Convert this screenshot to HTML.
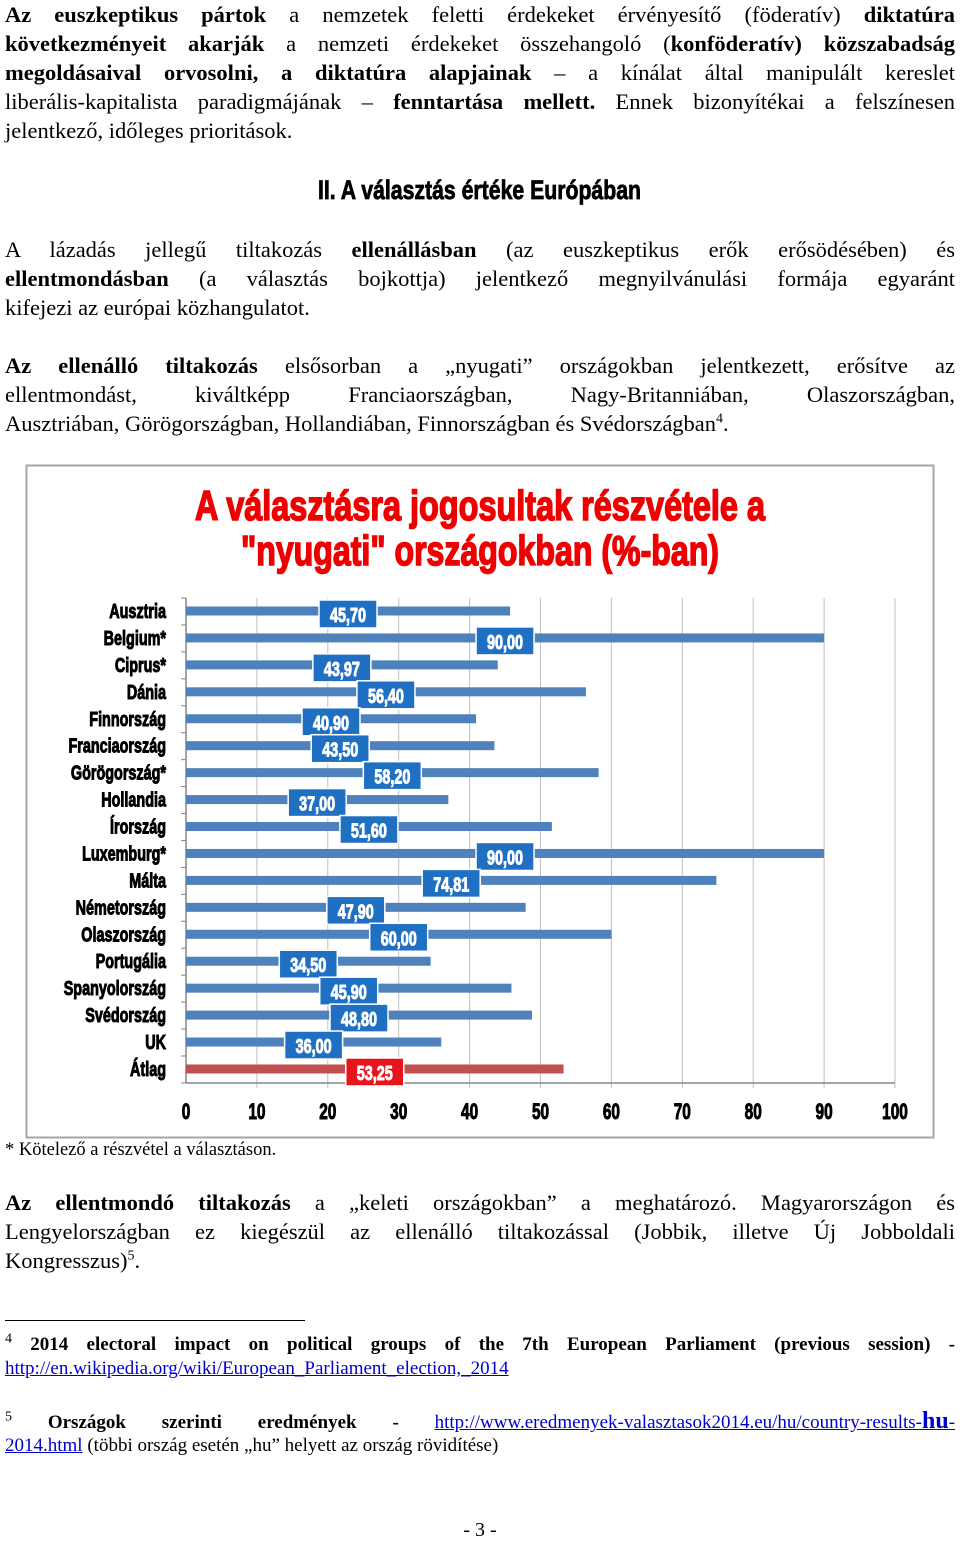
<!DOCTYPE html>
<html><head><meta charset="utf-8">
<style>
body{margin:0;width:960px;height:1539px;position:relative;background:#fff;font-family:"Liberation Serif",serif;color:#000;overflow:hidden}
.ln{position:absolute;left:5px;width:950px;font-size:22.5px;line-height:29px;white-space:nowrap}
.j{text-align:justify;text-align-last:justify}
.fn{font-size:19px;line-height:24px}
a,.lk{color:#0000cc;text-decoration:underline}
sup{font-size:14px;line-height:0}
</style></head><body>
<div>
<div class="ln j" style="top:0px"><b>Az euszkeptikus pártok</b> a nemzetek feletti érdekeket érvényesítő (föderatív) <b>diktatúra</b></div>
<div class="ln j" style="top:29px"><b>következményeit akarják</b> a nemzeti érdekeket összehangoló (<b>konföderatív) közszabadság</b></div>
<div class="ln j" style="top:58px"><b>megoldásaival orvosolni, a diktatúra alapjainak</b> – a kínálat által manipulált kereslet</div>
<div class="ln j" style="top:87px">liberális-kapitalista paradigmájának – <b>fenntartása mellett.</b> Ennek bizonyítékai a felszínesen</div>
<div class="ln" style="top:116px">jelentkező, időleges prioritások.</div>
</div>
<svg style="position:absolute;left:0;top:170px" width="960" height="40"><text x="318" y="29" textLength="323" lengthAdjust="spacingAndGlyphs" font-family="Liberation Sans" font-weight="bold" font-size="27" stroke="#000" stroke-width="0.8">II. A választás értéke Európában</text></svg>
<div>
<div class="ln j" style="top:235px">A lázadás jellegű tiltakozás <b>ellenállásban</b> (az euszkeptikus erők erősödésében) és</div>
<div class="ln j" style="top:264px"><b>ellentmondásban</b> (a választás bojkottja) jelentkező megnyilvánulási formája egyaránt</div>
<div class="ln" style="top:293px">kifejezi az európai közhangulatot.</div>
</div>
<div>
<div class="ln j" style="top:351px"><b>Az ellenálló tiltakozás</b> elsősorban a „nyugati” országokban jelentkezett, erősítve az</div>
<div class="ln j" style="top:380px">ellentmondást, kiváltképp Franciaországban, Nagy-Britanniában, Olaszországban,</div>
<div class="ln" style="top:409px">Ausztriában, Görögországban, Hollandiában, Finnországban és Svédországban<sup>4</sup>.</div>
</div>

<svg id="chart" style="position:absolute;left:0;top:0" width="960" height="1150"></svg>

<div class="ln" style="top:1138px;font-size:18.5px;line-height:24px">* Kötelező a részvétel a választáson.</div>
<div>
<div class="ln j" style="top:1188px"><b>Az ellentmondó tiltakozás</b> a „keleti országokban” a meghatározó. Magyarországon és</div>
<div class="ln j" style="top:1217px">Lengyelországban ez kiegészül az ellenálló tiltakozással (Jobbik, illetve Új Jobboldali</div>
<div class="ln" style="top:1246px">Kongresszus)<sup>5</sup>.</div>
</div>
<div style="position:absolute;left:5px;top:1320px;width:300px;height:1px;background:#000"></div>
<div>
<div class="ln fn j" style="top:1333px"><sup>4</sup> <b>2014 electoral impact on political groups of the 7th European Parliament (previous session) -</b></div>
<div class="ln fn" style="top:1357px"><span class="lk">http://en.wikipedia.org/wiki/European_Parliament_election,_2014</span></div>
</div>
<div>
<div class="ln fn j" style="top:1409px"><sup>5</sup> <b>Országok szerinti eredmények -</b> <span class="lk">http://www.eredmenyek-valasztasok2014.eu/hu/country-results-<b style="font-size:24px">hu</b>-</span></div>
<div class="ln fn" style="top:1434px"><span class="lk">2014.html</span> (többi ország esetén „hu” helyett az ország rövidítése)</div>
</div>
<div class="ln" style="top:1516px;left:0;width:960px;text-align:center;font-size:20px">- 3 -</div>

<script>
const categories=["Ausztria","Belgium*","Ciprus*","Dánia","Finnország","Franciaország","Görögország*","Hollandia","Írország","Luxemburg*","Málta","Németország","Olaszország","Portugália","Spanyolország","Svédország","UK","Átlag"];
const values=[45.70,90.00,43.97,56.40,40.90,43.50,58.20,37.00,51.60,90.00,74.81,47.90,60.00,34.50,45.90,48.80,36.00,53.25];
const valueLabels=["45,70","90,00","43,97","56,40","40,90","43,50","58,20","37,00","51,60","90,00","74,81","47,90","60,00","34,50","45,90","48,80","36,00","53,25"];
const ticks=[0,10,20,30,40,50,60,70,80,90,100];
const NS="http://www.w3.org/2000/svg";
const svg=document.getElementById('chart');
const x0=186,x1=895,yTop=598,rowH=26.94,axisY=1083;
const xs=v=>x0+(v/100)*(x1-x0);
const ys=i=>611+i*rowH;
function mk(t,a,p){const e=document.createElementNS(NS,t);for(const k in a)e.setAttribute(k,a[k]);(p||svg).appendChild(e);return e;}
function cond(x,y,txt,size,anchor,fill,sx){const g=mk('g',{transform:`translate(${x},${y}) scale(${sx},1)`});const t=mk('text',{x:0,y:0,'font-family':'Liberation Sans','font-weight':'bold','font-size':size,'text-anchor':anchor,fill:fill,stroke:fill,'stroke-width':1},g);t.textContent=txt;return t;}
const frame=mk('rect',{x:26.5,y:465.5,width:907,height:672,fill:'#fff',stroke:'#a6a6a6','stroke-width':2});


const t1=mk('text',{x:195,y:520,textLength:570,lengthAdjust:'spacingAndGlyphs','font-family':'Liberation Sans','font-weight':'bold','font-size':42,fill:'#ee0000',stroke:'#ee0000','stroke-width':1.6});
t1.textContent='A választásra jogosultak részvétele a';


const t2=mk('text',{x:241,y:565,textLength:478,lengthAdjust:'spacingAndGlyphs','font-family':'Liberation Sans','font-weight':'bold','font-size':42,fill:'#ee0000',stroke:'#ee0000','stroke-width':1.6});
t2.textContent='"nyugati" országokban (%-ban)';


ticks.forEach(v=>{
  if(v>0){const g=mk('line',{x1:xs(v),x2:xs(v),y1:yTop,y2:axisY+5,stroke:'#bfbfbf','stroke-width':1});
  
  }
  const tl=cond(xs(v),1119,String(v),22,'middle','#000',0.7);
  
  
});
const ax=mk('line',{x1:x0,x2:x1,y1:axisY,y2:axisY,stroke:'#868686','stroke-width':1.5});


const ay=mk('line',{x1:x0,x2:x0,y1:yTop,y2:axisY,stroke:'#868686','stroke-width':1.5});


for(let i=0;i<=categories.length;i++){const y=yTop+i*rowH;mk('line',{x1:x0-5,x2:x0,y1:y,y2:y,stroke:'#868686','stroke-width':1});}
categories.forEach((c,i)=>{
  const y=ys(i);const last=i===categories.length-1;
  const b=mk('rect',{x:x0,y:y-4.5,width:xs(values[i])-x0,height:9,fill:last?'#c0504d':'#4f81bd'});
  
  
  const lab=cond(166,y+7,c,20,'end','#000',0.72);
  
  
  const cx=xs(values[i]/2);
  const box=mk('rect',{x:cx-29,y:y-11,width:58,height:28,fill:last?'#e8141b':'#1f6fc3',stroke:'#fff','stroke-width':1.5});
  
  
  const vt=cond(cx,y+11,valueLabels[i],20,'middle','#fff',0.72);
  
  
});
</script>
</body></html>
